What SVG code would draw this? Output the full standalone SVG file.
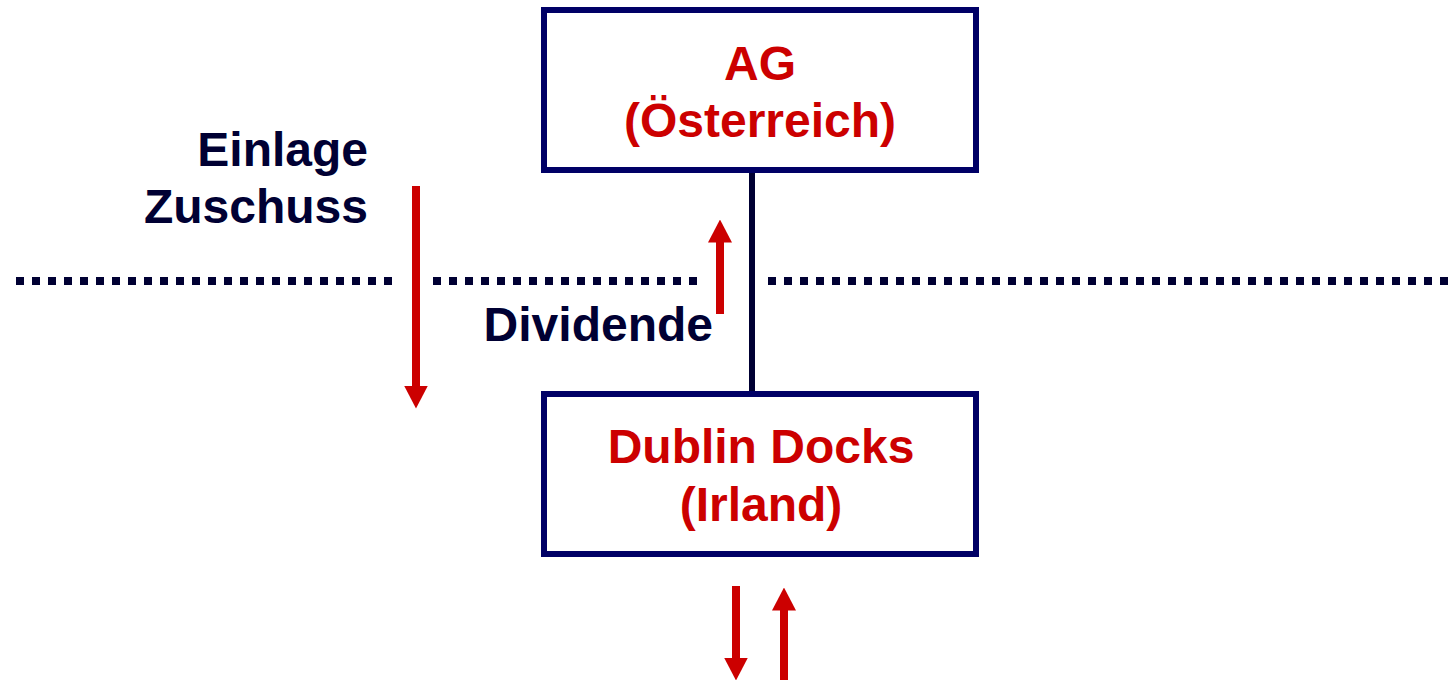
<svg xmlns="http://www.w3.org/2000/svg" width="1453" height="680" viewBox="0 0 1453 680">
<defs>
<marker id="head" viewBox="0 0 23 24" refX="0.5" refY="12" markerWidth="23" markerHeight="24" markerUnits="userSpaceOnUse" orient="auto">
<path d="M0,0 L23,12 L0,24 z" fill="#CC0000"/>
</marker>
</defs>
<style>
.box{fill:#FFFFFF;stroke:#000066;stroke-width:6}
.red{font-family:"Liberation Sans",Arial,sans-serif;font-weight:bold;font-size:48px;fill:#CC0000;text-anchor:middle}
.lbl{font-family:"Liberation Sans",Arial,sans-serif;font-weight:bold;font-size:48px;fill:#000033;text-anchor:end}
.dots{stroke:#000033;stroke-width:8;stroke-dasharray:8 8;fill:none}
.flow{stroke:#CC0000;stroke-width:8;fill:none;marker-end:url(#head)}
.link{stroke:#000033;stroke-width:6;fill:none}
</style>
<rect width="1453" height="680" fill="#FFFFFF"/>
<g id="border">
<line class="dots" x1="16" y1="281" x2="392" y2="281"/>
<line class="dots" x1="433" y1="281" x2="697" y2="281"/>
<line class="dots" x1="768" y1="281" x2="1448" y2="281"/>
</g>
<g id="connectors">
<line class="link" x1="752" y1="173" x2="752" y2="391"/>
<line class="flow" x1="416" y1="186" x2="416" y2="386"/>
<line class="flow" x1="720" y1="314" x2="720" y2="242"/>
<line class="flow" x1="736" y1="586" x2="736" y2="658"/>
<line class="flow" x1="784" y1="680" x2="784" y2="610"/>
</g>
<g id="node-ag">
<rect class="box" x="544" y="10" width="432" height="160"/>
<text class="red" x="760" y="80">AG</text>
<text class="red" x="760" y="137">(Österreich)</text>
</g>
<g id="node-dublin">
<rect class="box" x="544" y="394" width="432" height="160"/>
<text class="red" x="761" y="463">Dublin Docks</text>
<text class="red" x="761" y="521">(Irland)</text>
</g>
<g id="labels">
<text class="lbl" x="368" y="166">Einlage</text>
<text class="lbl" x="368" y="223">Zuschuss</text>
<text class="lbl" x="713" y="341">Dividende</text>
</g>
</svg>
